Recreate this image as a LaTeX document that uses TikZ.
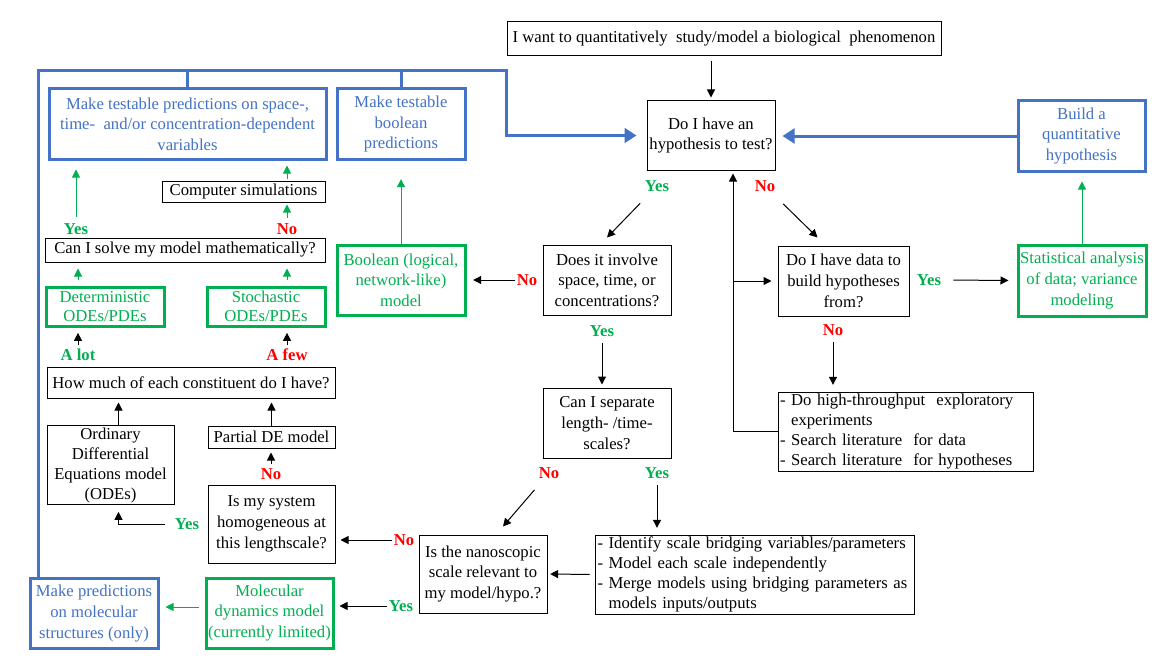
\documentclass[tikz,border=0pt]{standalone}
\usepackage{fontspec}
\setmainfont{Liberation Serif}
\usetikzlibrary{arrows.meta,calc}
\definecolor{ggreen}{HTML}{00B050}
\definecolor{rred}{HTML}{FF0000}
\definecolor{bblue}{HTML}{4472C4}
\begin{document}
\begin{tikzpicture}[x=0.75pt,y=-0.75pt,
  every node/.style={font=\fontsize{12.5pt}{15.5pt}\selectfont, inner sep=0pt, align=center},
  bbox/.style={draw=black, line width=0.75pt},
  gbox/.style={draw=ggreen, line width=2.25pt, text=ggreen},
  ubox/.style={draw=bblue, line width=2.25pt, text=bblue},
  lyes/.style={text=ggreen, font=\fontsize{12.5pt}{15pt}\selectfont\bfseries},
  lno/.style={text=rred, font=\fontsize{12.5pt}{15pt}\selectfont\bfseries},
  arr/.style={-{Triangle[length=6pt,width=6pt]}, line width=0.75pt, draw=black},
  garr/.style={-{Triangle[length=6pt,width=6pt]}, line width=0.75pt, draw=ggreen},
  barr/.style={-{Triangle[length=9pt,width=11pt]}, line width=2.25pt, draw=bblue},
  bline/.style={line width=2.25pt, draw=bblue},
]
\fill[white] (0,0) rectangle (1175,660);
\useasboundingbox (0,0) rectangle (1175,660);

% boxes
\node[bbox, minimum width=325.5pt, minimum height=25.5pt] (top) at (724,39) {I want to quantitatively\ \ study/model a biological\ \ phenomenon};
\node[bbox, minimum width=96pt, minimum height=51.75pt] (hyp) at (711,135.5) {Do I have an\\hypothesis to test?};
\node[ubox, minimum width=95.25pt, minimum height=52.5pt] (build) at (1081.5,136) {Build a\\quantitative\\hypothesis};
\node[gbox, minimum width=96pt, minimum height=53.25pt] (stat) at (1082,280.5) {Statistical analysis\\of data; variance\\modeling};
\node[bbox, minimum width=96pt, minimum height=52.5pt] (does) at (607,280) {Does it involve\\space, time, or\\concentrations?};
\node[bbox, minimum width=98.25pt, minimum height=52.5pt] (data) at (843.5,281) {Do I have data to\\build hypotheses\\from?};
\node[bbox, text width=188.25pt, inner xsep=1.5pt, minimum height=59.25pt, align=left, font=\fontsize{12.5pt}{15pt}\selectfont] (bullets) at (905.5,431.5) {- Do high-throughput\ \ exploratory\\\hphantom{- }experiments\\- Search literature\ \ for data\\- Search literature\ \ for hypotheses};
\node[bbox, minimum width=96pt, minimum height=52.5pt] (sep) at (607,423) {Can I separate\\length- /time-\\scales?};
\node[bbox, text width=235.5pt, inner xsep=1.875pt, minimum height=59.25pt, align=left, font=\fontsize{12.5pt}{15pt}\selectfont] (scales) at (754.5,574.5) {- Identify scale bridging variables/parameters\\- Model each scale independently\\- Merge models using bridging parameters as\\\hphantom{- }models inputs/outputs};
\node[bbox, minimum width=96pt, minimum height=58.5pt] (nano) at (483,574) {Is the nanoscopic\\scale relevant to\\my model/hypo.?};
\node[bbox, minimum width=95.25pt, minimum height=58.5pt] (homog) at (271.5,524) {Is my system\\homogeneous at\\this lengthscale?};
\node[gbox, minimum width=95.25pt, minimum height=52.5pt] (md) at (269.5,613) {Molecular\\dynamics model\\(currently limited)};
\node[ubox, minimum width=96pt, minimum height=52.5pt] (molpred) at (94,613.5) {Make predictions\\on molecular\\structures (only)};
\node[bbox, minimum width=95.25pt, minimum height=59pt, font=\fontsize{12.5pt}{15pt}\selectfont] (ode) at (110.5,465) {Ordinary\\Differential\\Equations model\\(ODEs)};
\node[bbox, minimum width=95.25pt, minimum height=16.5pt] (pde) at (271.5,437) {Partial DE model};
\node[bbox, minimum width=216pt, minimum height=23.25pt] (howmuch) at (191,382.5) {How much of each constituent do I have?};
\node[gbox, minimum width=88.5pt, minimum height=29.25pt, font=\fontsize{12.5pt}{14pt}\selectfont] (det) at (105,306.5) {Deterministic\\ODEs/PDEs};
\node[gbox, minimum width=88.5pt, minimum height=29.25pt, font=\fontsize{12.5pt}{14pt}\selectfont] (stoch) at (266,306.5) {Stochastic\\ODEs/PDEs};
\node[bbox, minimum width=210pt, minimum height=18pt] (solve) at (185,250) {Can I solve my model mathematically?};
\node[bbox, minimum width=122.25pt, minimum height=15.75pt] (compsim) at (243.5,191.5) {Computer simulations};
\node[ubox, minimum width=207.75pt, minimum height=52.5pt] (maketest) at (187.5,124) {Make testable predictions on space-,\\time-\ \ and/or concentration-dependent\\variables};
\node[ubox, minimum width=96pt, minimum height=52.5pt] (boolpred) at (401,124) {Make testable\\boolean\\predictions};
\node[gbox, minimum width=96pt, minimum height=52.5pt] (boolmodel) at (401,280) {Boolean (logical,\\network-like)\\model};

% labels
\node[lyes] (hy) at (657,186) {Yes};
\node[lno] (hn) at (765,186) {No};
\node[lno] (dno) at (527,280) {No};
\node[lyes] (dye) at (602,331) {Yes};
\node[lyes] (dy) at (929,280) {Yes};
\node[lno] (dn) at (833,330) {No};
\node[lno] (sno) at (549,473) {No};
\node[lyes] (sye) at (657,473) {Yes};
\node[lno] (nno) at (404,540) {No};
\node[lyes] (nye) at (401,606) {Yes};
\node[lyes] (hmy) at (187,524) {Yes};
\node[lno] (pno) at (271,474) {No};
\node[lyes] (alot) at (78,355) {A lot};
\node[lno] (afew) at (287,355) {A few};
\node[lyes] (sy2) at (76,229) {Yes};
\node[lno] (sn2) at (287,229) {No};

% helper coordinates
\coordinate (c2) at ($(does.north)+(0,-7)$);
\coordinate (c3) at ($(data.north west)+(40,-8)$);
\coordinate (vx) at ($(hyp.south)+(22,0)$);
\coordinate (c12) at ($(nano.north)+(20,-8)$);
\coordinate (c17) at ($(md.west)+(0,-6)$);
\coordinate (c18) at ($(ode.south)+(8,7)$);
\coordinate (c20) at ($(ode.north)+(8,0)$);
\coordinate (tl) at (38,71);
\coordinate (tr) at (506,71);

% black connectors
\draw[arr, shorten <=3.75pt, shorten >=2.25pt] (hyp.north |- top.south) -- (hyp.north);
\draw[arr, shorten <=12pt] (hy) -- (c2);
\draw[arr, shorten <=13pt] (hn) -- (c3);
\draw[arr, shorten >=2.25pt] (bullets.west) -| (vx);
\draw[arr, shorten >=4.5pt] (vx |- data.west) -- (data.west);
\draw[arr, shorten <=9pt, shorten >=6pt] (dy.east) -- (stat.west);
\draw[arr, shorten <=5pt, shorten >=5pt] (dn.south) -- (dn.south |- bullets.north);
\draw[arr, shorten <=1pt, shorten >=5pt] (dno.west) -- (dno.west -| boolmodel.east);
\draw[arr, shorten <=5pt, shorten >=2.25pt] (dye.south) -- (dye.south |- sep.north);
\draw[arr, shorten <=11pt] (sno) -- (c12);
\draw[arr, shorten <=5pt, shorten >=5pt] (sye.south) -- (sye.south |- scales.north);
\draw[arr, shorten <=3.75pt, shorten >=2pt] (scales.west) -- (nano.east);
\draw[arr, shorten <=1pt, shorten >=3.75pt] (nno.west) -- (nno.west -| homog.east);
\draw[arr, shorten <=1pt, shorten >=3.75pt] (nye.west) -- (nye.west -| md.east);
\draw[arr, shorten <=7pt] (hmy.west) -| (c18);
\draw[arr, shorten <=3pt, shorten >=3pt] (pno.north) -- (pno.north |- pde.south);
\draw[arr, shorten >=3pt] (c20) -- (c20 |- howmuch.south);
\draw[arr, shorten >=3pt] (pde.north) -- (pde.north |- howmuch.south);
\draw[arr, shorten <=3pt, shorten >=4pt] (alot.north) -- (alot.north |- det.south);
\draw[arr, shorten <=3pt, shorten >=4pt] (afew.north) -- (afew.north |- stoch.south);

% green connectors
\draw[garr, shorten >=6.75pt] (stat.north) -- (stat.north |- build.south);
\draw[garr, shorten <=4.5pt, shorten >=4.5pt] (c17) -- (c17 -| molpred.east);
\draw[garr, shorten <=4.5pt, shorten >=4.5pt] (alot.north |- det.north) -- (alot.north |- solve.south);
\draw[garr, shorten <=4.5pt, shorten >=4.5pt] (afew.north |- stoch.north) -- (afew.north |- solve.south);
\draw[garr, shorten <=5pt, shorten >=6.75pt] (sy2.north) -- (sy2.north |- maketest.south);
\draw[garr, shorten <=3.75pt, shorten >=1.5pt] (sn2.north) -- (sn2.north |- compsim.south);
\draw[garr, shorten <=1.5pt, shorten >=3.75pt] (sn2.north |- compsim.north) -- (sn2.north |- maketest.south);
\draw[garr, shorten >=14pt] (boolmodel.north) -- (boolpred.south);

% blue connectors
\draw[barr, shorten >=5.25pt] (build.west) -- (build.west -| hyp.east);
\draw[bline] (maketest.north) -- (maketest.north |- tl);
\draw[bline] (boolpred.north) -- (boolpred.north |- tl);
\draw[barr, shorten >=7.5pt] (molpred.north -| tl) -- (tl) -- (tr) |- (hyp.west);
\end{tikzpicture}
\end{document}
